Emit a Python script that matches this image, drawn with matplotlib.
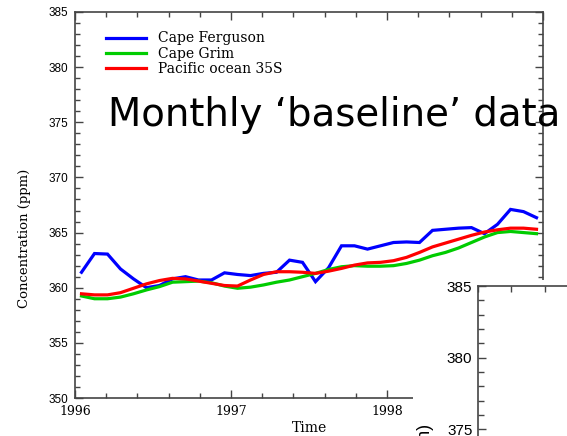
import numpy as np
import matplotlib
matplotlib.use("Agg")
import matplotlib.pyplot as plt
from matplotlib.patches import Rectangle
from matplotlib.ticker import MultipleLocator

# monthly baseline CO2 (ppm), Jan 1996 .. Dec 1998
start_year = 1996
n_months = 36
cape_ferguson = [361.4, 363.1, 363.05, 361.7, 360.8, 360.0, 360.2, 360.8, 361.0, 360.7, 360.7, 361.35,
                 361.2, 361.1, 361.3, 361.4, 362.5, 362.3, 360.55, 361.8, 363.8, 363.8, 363.5, 363.8,
                 364.1, 364.15, 364.1, 365.2, 365.3, 365.4, 365.45, 364.9, 365.75, 367.1, 366.9, 366.35]
cape_grim = [359.25, 359.0, 359.0, 359.15, 359.45, 359.8, 360.1, 360.5, 360.55, 360.6, 360.45, 360.15,
             359.95, 360.05, 360.25, 360.5, 360.7, 361.0, 361.3, 361.65, 361.9, 362.0, 361.95, 361.95,
             362.0, 362.2, 362.5, 362.9, 363.2, 363.6, 364.1, 364.6, 365.0, 365.1, 365.0, 364.9]
pacific_35s = [359.45, 359.35, 359.35, 359.55, 359.95, 360.35, 360.65, 360.85, 360.8, 360.6, 360.4, 360.2,
               360.15, 360.7, 361.2, 361.45, 361.45, 361.4, 361.3, 361.5, 361.75, 362.05, 362.25, 362.3,
               362.45, 362.75, 363.2, 363.7, 364.05, 364.4, 364.75, 365.05, 365.25, 365.4, 365.4, 365.3]
series_names = ["Cape Ferguson", "Cape Grim", "Pacific ocean 35S"]
series_colors = ["#0000ff", "#00cc00", "#ff0000"]

W, H = 567, 436
fig = plt.figure(figsize=(W / 100, H / 100), dpi=100)

def px(x0, y0, x1, y1):
    # pixel box (top-left origin) -> figure fraction rect
    return [x0 / W, 1 - y1 / H, (x1 - x0) / W, (y1 - y0) / H]

spine_col = "#444444"

# main chart
ax = fig.add_axes(px(75, 12, 543, 398))
t = start_year + (np.arange(n_months) + 0.5) / 12
for vals, name, col in zip([cape_ferguson, cape_grim, pacific_35s], series_names, series_colors):
    ax.plot(t, vals, color=col, lw=2.3, label=name, solid_joinstyle="miter")
ax.set_xlim(1996, 1999)
ax.set_ylim(350, 385)
ax.xaxis.set_major_locator(MultipleLocator(1))
ax.xaxis.set_minor_locator(MultipleLocator(0.2))
ax.yaxis.set_major_locator(MultipleLocator(5))
ax.yaxis.set_minor_locator(MultipleLocator(1))
ax.tick_params(which="both", direction="in", top=True, right=True, color=spine_col, width=1)
ax.tick_params(which="major", length=5.5)
ax.tick_params(which="minor", length=3.5)
ax.tick_params(axis="y", pad=5, labelsize=8.5)
ax.tick_params(axis="x", pad=5, labelsize=9)
for lab in ax.get_yticklabels():
    lab.set_family("Liberation Sans")
for lab in ax.get_xticklabels():
    lab.set_family("DejaVu Serif")
for s in ax.spines.values():
    s.set_color(spine_col)
    s.set_linewidth(1.2)
leg = ax.legend(loc="upper left", frameon=False, bbox_to_anchor=(0.045, 0.975),
                prop={"family": "DejaVu Serif", "size": 10}, handlelength=2.9,
                handletextpad=0.85, labelspacing=0.1, borderaxespad=0.3)

fig.text(310 / W, 1 - 428 / H, "Time", family="DejaVu Serif", fontsize=10,
         ha="center", va="center")
fig.text(25 / W, 1 - 238 / H, "Concentration (ppm)", family="DejaVu Serif", fontsize=9.5,
         rotation=90, ha="center", va="center")

fig.text(108 / W, 1 - 126 / H, "Monthly \u2018baseline\u2019 data", family="DejaVu Sans",
         fontsize=27.8, ha="left", va="baseline")

# second slide chart overlapping bottom right
cover = Rectangle((413 / W, 0), 1, 1 - 280 / H, transform=fig.transFigure,
                  facecolor="white", edgecolor="none", zorder=1)
fig.add_artist(cover)

ax2 = fig.add_axes(px(478, 286, 878, 859), zorder=2)
ax2.set_xlim(0, 12)
ax2.set_ylim(345, 385)
ax2.xaxis.set_major_locator(MultipleLocator(1))
ax2.yaxis.set_major_locator(MultipleLocator(5))
ax2.yaxis.set_minor_locator(MultipleLocator(1))
ax2.tick_params(which="both", direction="in", top=True, bottom=False, labelbottom=False,
                color=spine_col, width=1)
ax2.tick_params(axis="y", which="major", length=6, pad=4, labelsize=11)
ax2.tick_params(axis="y", which="minor", length=4)
ax2.tick_params(axis="x", length=4)
for lab in ax2.get_yticklabels():
    lab.set_family("Liberation Sans")
for s in ax2.spines.values():
    s.set_color(spine_col)
    s.set_linewidth(1.2)
fig.text(425 / W, 1 - 424 / H, "Concentration (ppm)", family="Liberation Sans", fontsize=13,
         rotation=90, ha="center", va="top", zorder=3)

fig.savefig("out.png", dpi=100)
